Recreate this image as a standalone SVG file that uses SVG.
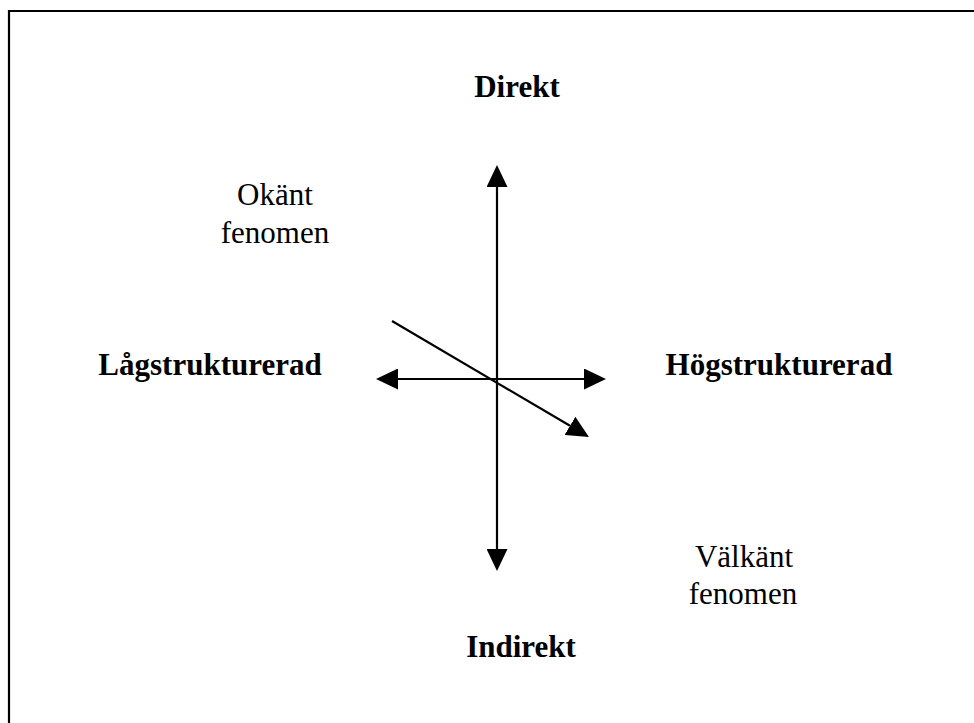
<svg xmlns="http://www.w3.org/2000/svg" width="974" height="723" viewBox="0 0 974 723">
<style>
.b{font-family:"Liberation Serif","Times New Roman",serif;font-size:31px;font-weight:bold;fill:#000;text-anchor:middle}
.r{font-family:"Liberation Serif","Times New Roman",serif;font-size:31px;fill:#000;text-anchor:middle}
.ax{stroke:#000;stroke-width:2.2;fill:none}
</style>
<defs>
<marker id="ah" viewBox="0 0 22 21" refX="0" refY="10.5" markerWidth="22" markerHeight="21" markerUnits="userSpaceOnUse" orient="auto-start-reverse">
<polygon points="0,0 22,10.5 0,21" fill="#000"/>
</marker>
</defs>
<rect x="0" y="0" width="974" height="723" fill="#fff"/>
<path d="M9,740 V11 H990" stroke="#000" stroke-width="2.2" fill="none"/>
<g id="connectors">
<line class="ax" x1="497" y1="187" x2="497" y2="549" marker-start="url(#ah)" marker-end="url(#ah)"/>
<line class="ax" x1="398" y1="379" x2="584" y2="379" marker-start="url(#ah)" marker-end="url(#ah)"/>
<line class="ax" x1="392" y1="321" x2="570" y2="425.8" marker-end="url(#ah)"/>
</g>
<g id="direkt"><text class="b" x="517" y="97">Direkt</text></g>
<g id="indirekt"><text class="b" x="521" y="657">Indirekt</text></g>
<g id="lagstrukturerad"><text class="b" x="210" y="375">Lågstrukturerad</text></g>
<g id="hogstrukturerad"><text class="b" x="779" y="375">Högstrukturerad</text></g>
<g id="okant"><text class="r" x="275" y="205">Okänt</text><text class="r" x="275" y="243">fenomen</text></g>
<g id="valkant"><text class="r" x="744" y="567">Välkänt</text><text class="r" x="743" y="604">fenomen</text></g>
</svg>
